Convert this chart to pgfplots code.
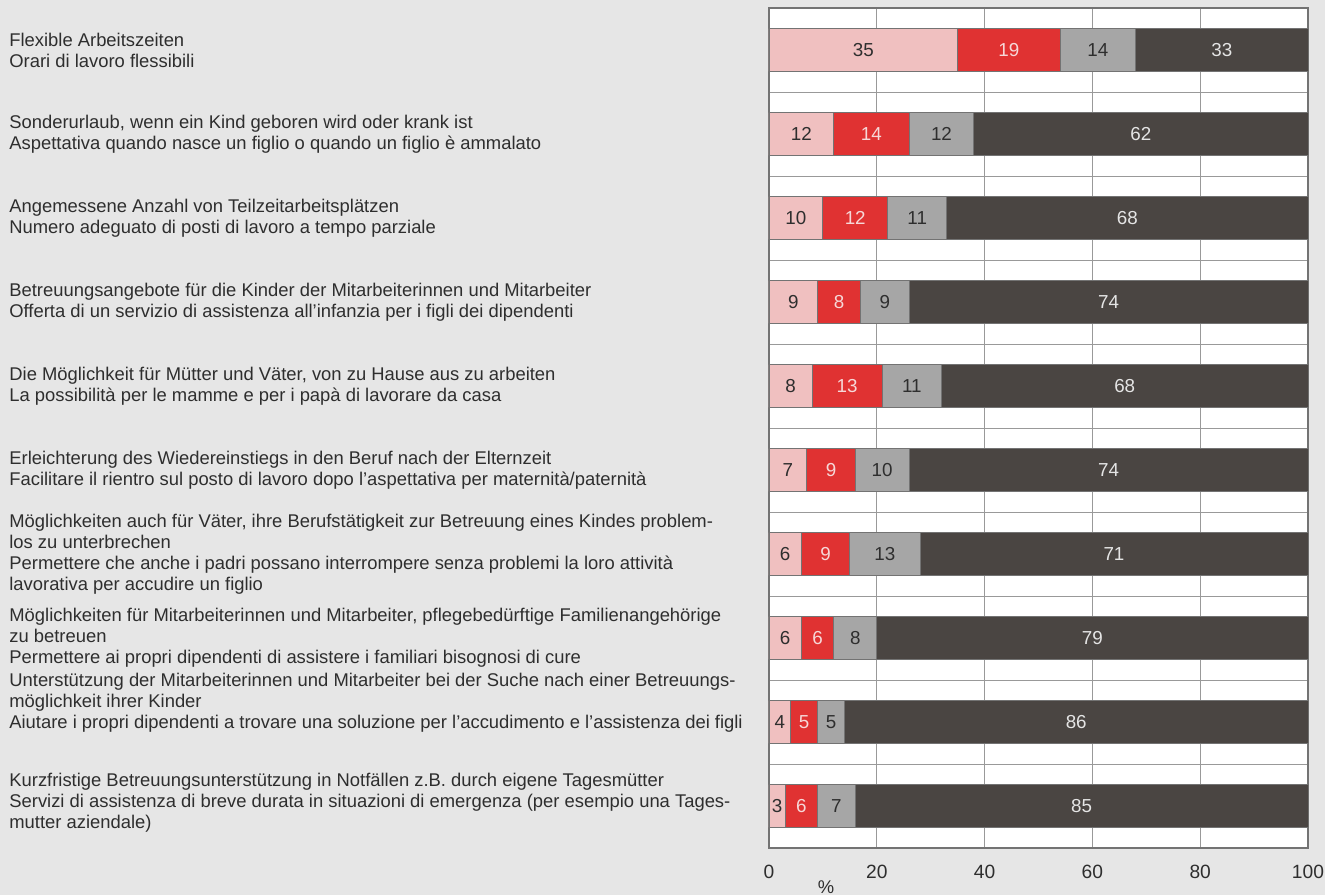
\documentclass[border=0pt]{standalone}
\usepackage{fontspec}
\setmainfont{Liberation Sans}
\usepackage{pgfplots}
\usepackage{pgfplotstable}
\pgfplotsset{compat=1.18}

\definecolor{bgc}{HTML}{E6E6E6}
\definecolor{pinkc}{HTML}{F0C0C0}
\definecolor{redc}{HTML}{E03232}
\definecolor{grayc}{HTML}{A6A6A6}
\definecolor{darkc}{HTML}{4A4542}
\definecolor{txt}{HTML}{2E2E2E}
\definecolor{lighttxt}{HTML}{F6D8D8}

% share of answers per measure, four answer categories
% d = printed value, dx = drawn length (rounded shares fill the bar to 100)
\pgfplotstableread{
idx a  b  c  d  dx
0   35 19 14 33 32
1   12 14 12 62 62
2   10 12 11 68 67
3   9  8  9  74 74
4   8  13 11 68 68
5   7  9  10 74 74
6   6  9  13 71 72
7   6  6  8  79 80
8   4  5  5  86 86
9   3  6  7  85 84
}\data

\begin{document}
\begin{tikzpicture}
\path[use as bounding box, fill=bgc] (-384.5pt,-23.5pt) rectangle (278pt,424pt);
\begin{axis}[
    at={(0,0)}, anchor=south west,
    scale only axis, width=269.5pt, height=420pt,
    xbar stacked, bar width=0.51,
    y dir=reverse, ymin=-0.5, ymax=9.5,
    xmin=0, xmax=100,
    xtick={0,20,...,100}, ytick={0,...,9},
    minor ytick={0.5,1.5,...,8.5},
    xmajorgrids, yminorgrids,
    major tick length=0pt, minor tick length=0pt,
    grid style={draw=black!40, line width=0.5pt},
    minor grid style={draw=black!40, line width=0.5pt},
    axis line style={draw=black!55, line width=0.8pt},
    axis background/.style={fill=white},
    xticklabel style={font=\fontsize{9.6}{11}\selectfont, text=txt, yshift=-5pt},
    /pgf/number format/assume math mode=true,
    yticklabel style={font=\fontsize{9.2}{10.5}\selectfont, text=txt, align=left,
        anchor=west, inner sep=0pt, xshift=-380pt},
    yticklabels={
        {Flexible Arbeitszeiten\\Orari di lavoro flessibili},
        {Sonderurlaub, wenn ein Kind geboren wird oder krank ist\\Aspettativa quando nasce un figlio o quando un figlio è ammalato},
        {Angemessene Anzahl von Teilzeitarbeitsplätzen\\Numero adeguato di posti di lavoro a tempo parziale},
        {Betreuungsangebote für die Kinder der Mitarbeiterinnen und Mitarbeiter\\Offerta di un servizio di assistenza all’infanzia per i figli dei dipendenti},
        {Die Möglichkeit für Mütter und Väter, von zu Hause aus zu arbeiten\\La possibilità per le mamme e per i papà di lavorare da casa},
        {Erleichterung des Wiedereinstiegs in den Beruf nach der Elternzeit\\Facilitare il rientro sul posto di lavoro dopo l’aspettativa per maternità/paternità},
        {Möglichkeiten auch für Väter, ihre Berufstätigkeit zur Betreuung eines Kindes problem-\\los zu unterbrechen\\Permettere che anche i padri possano interrompere senza problemi la loro attività\\lavorativa per accudire un figlio},
        {Möglichkeiten für Mitarbeiterinnen und Mitarbeiter, pflegebedürftige Familienangehörige\\zu betreuen\\Permettere ai propri dipendenti di assistere i familiari bisognosi di cure},
        {Unterstützung der Mitarbeiterinnen und Mitarbeiter bei der Suche nach einer Betreuungs-\\möglichkeit ihrer Kinder\\Aiutare i propri dipendenti a trovare una soluzione per l’accudimento e l’assistenza dei figli\\\mbox{}\\\mbox{}},
        {Kurzfristige Betreuungsunterstützung in Notfällen z.B. durch eigene Tagesmütter\\Servizi di assistenza di breve durata in situazioni di emergenza (per esempio una Tages-\\mutter aziendale\rlap{)}\\[-5pt]\mbox{}},
    },
    xlabel={\%},
    xlabel style={at={(axis description cs:0.106,0)}, anchor=north, yshift=-13pt,
        font=\fontsize{9.2}{11}\selectfont, text=txt},
    point meta=explicit,
    nodes near coords,
    every node near coord/.append style={font=\fontsize{9.4}{11}\selectfont, anchor=center},
    every axis plot/.append style={draw=black!55, line width=0.4pt},
]
\addplot[fill=pinkc, every node near coord/.append style={text=txt}]
    table[x=a, y=idx, meta=a] {\data};
\addplot[fill=redc, every node near coord/.append style={text=lighttxt}]
    table[x=b, y=idx, meta=b] {\data};
\addplot[fill=grayc, every node near coord/.append style={text=txt}]
    table[x=c, y=idx, meta=c] {\data};
\addplot[fill=darkc, every node near coord/.append style={text=black!10}]
    table[x=dx, y=idx, meta=d] {\data};
\end{axis}
\end{tikzpicture}
\end{document}
